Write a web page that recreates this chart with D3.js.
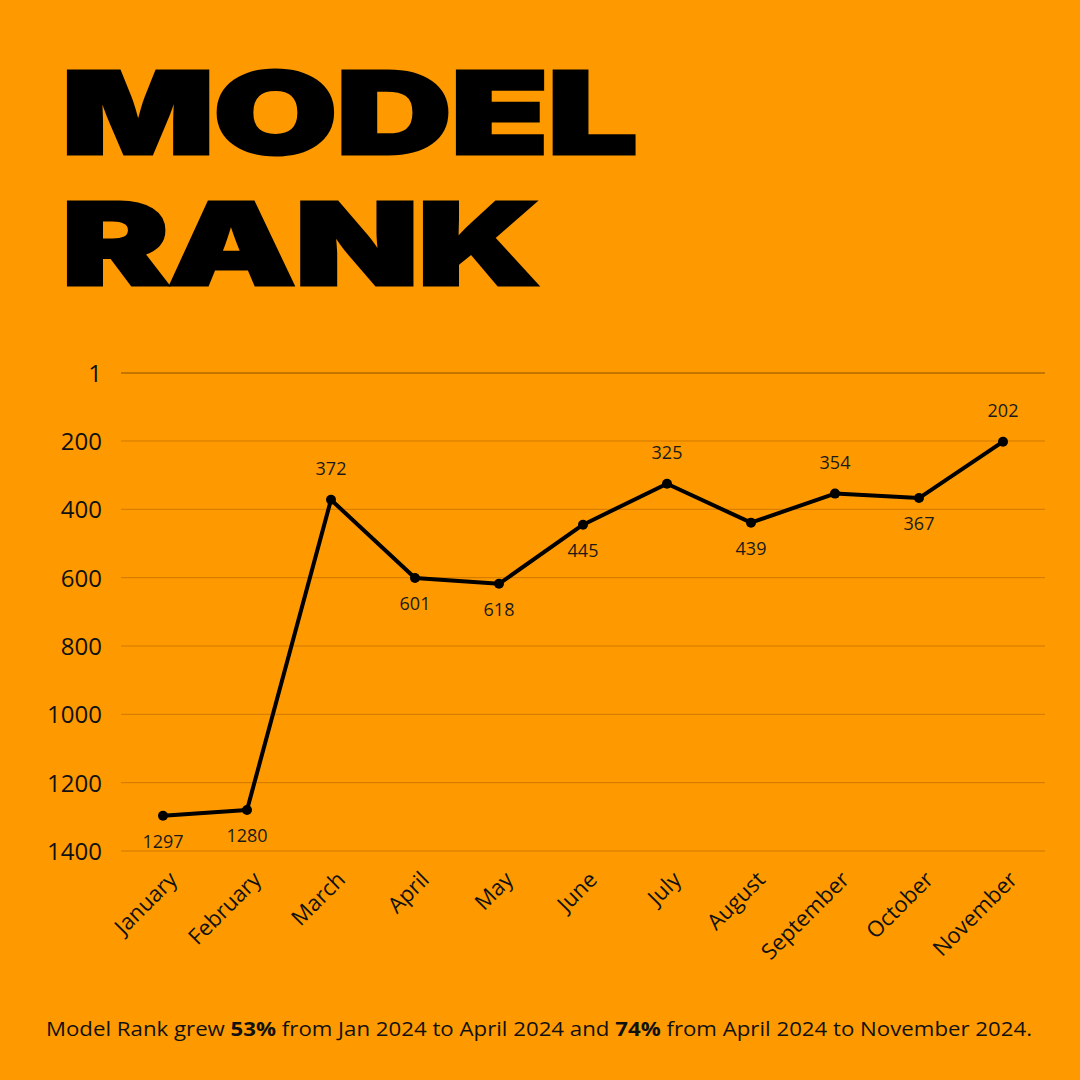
<!DOCTYPE html>
<html><head><meta charset="utf-8">
<script src="https://cdn.jsdelivr.net/npm/d3@7"></script>
<style>
html,body{margin:0;padding:0;background:#fe9a00;}
svg{display:block;}
</style></head>
<body>
<script>
const months = ["January","February","March","April","May","June","July","August","September","October","November"];
const ranks = [1297,1280,372,601,618,445,325,439,354,367,202];
const yTicks = [1,200,400,600,800,1000,1200,1400];
const titleLines = ["MODEL","RANK"];

const W = 1080, H = 1080;
const svg = d3.select("body").append("svg").attr("width",W).attr("height",H);
svg.append("rect").attr("width",W).attr("height",H).attr("fill","#fe9a00");

// Title
const titleBoxes = [{x:60,base:155,w:578},{x:60,base:286,w:480}];
titleLines.forEach((t,i)=>{
  const b = titleBoxes[i];
  const g = svg.append("g");
  const tx = g.append("text")
    .attr("x",0).attr("y",0)
    .attr("font-family","Inter, 'DejaVu Sans', sans-serif")
    .attr("font-weight",900).attr("font-size",114)
    .attr("letter-spacing",-1)
    .attr("fill","#000").attr("stroke","#000").attr("stroke-width",3).attr("stroke-linejoin","miter")
    .text(t);
  const bb = tx.node().getBBox();
  const sx = (b.w-3)/bb.width;
  g.attr("transform",`translate(${b.x+1.5 - bb.x*sx},${b.base-1.5}) scale(${sx},1)`);
});

// Chart
const x = d3.scalePoint().domain(months).range([121,1045]).padding(0.5);
const y = d3.scaleLinear().domain([1,1400]).range([373,851]);

const grid = svg.append("g");
grid.selectAll("line").data(yTicks).join("line")
  .attr("x1",121).attr("x2",1045)
  .attr("y1",d=>y(d)).attr("y2",d=>y(d))
  .attr("stroke",d=>d===1?"rgba(60,30,0,0.6)":"rgba(120,60,0,0.35)").attr("stroke-width",1);

const yAxis = svg.append("g").attr("transform","translate(102,0)")
  .call(d3.axisLeft(y).tickValues(yTicks).tickSize(0).tickPadding(0).tickFormat(d3.format("d")));
yAxis.select(".domain").remove();
yAxis.selectAll("text").attr("font-family","'Open Sans', sans-serif").attr("font-size",24).attr("fill","#111").attr("dy","0.36em");

const xAxis = svg.append("g").attr("transform","translate(0,851)")
  .call(d3.axisBottom(x).tickSize(0).tickPadding(0));
xAxis.select(".domain").remove();
xAxis.selectAll("text")
  .attr("font-family","'Open Sans', sans-serif").attr("font-size",22).attr("fill","#111")
  .attr("text-anchor","end").attr("dy",0)
  .attr("transform","translate(15,30) rotate(-45)");

const line = d3.line().x((d,i)=>x(months[i])).y(d=>y(d));
svg.append("path").datum(ranks).attr("d",line)
  .attr("fill","none").attr("stroke","#000").attr("stroke-width",4).attr("stroke-linejoin","round");

svg.selectAll("circle.pt").data(ranks).join("circle").attr("class","pt")
  .attr("cx",(d,i)=>x(months[i])).attr("cy",d=>y(d)).attr("r",5).attr("fill","#000");

function isPeak(i){
  const v = ranks[i];
  const l = i>0 ? ranks[i-1] : Infinity, r = i<ranks.length-1 ? ranks[i+1] : Infinity;
  return v < l && v < r;
}
svg.selectAll("text.lbl").data(ranks).join("text").attr("class","lbl")
  .attr("x",(d,i)=>x(months[i]))
  .attr("y",(d,i)=>y(d) + (isPeak(i) ? -31 : 26))
  .attr("dy","0.35em")
  .attr("text-anchor","middle")
  .attr("font-family","'Open Sans', sans-serif").attr("font-size",18).attr("fill","#1a1a1a")
  .text(d=>d);

// Footer
const foot = svg.append("text").attr("x",46).attr("y",1036)
  .attr("font-family","'Open Sans', sans-serif").attr("font-size",20).attr("fill","#111")
  .attr("textLength",986).attr("lengthAdjust","spacingAndGlyphs");
foot.append("tspan").text("Model Rank grew ");
foot.append("tspan").attr("font-weight",700).text("53%");
foot.append("tspan").text(" from Jan 2024 to April 2024 and ");
foot.append("tspan").attr("font-weight",700).text("74%");
foot.append("tspan").text(" from April 2024 to November 2024.");
</script>
</body></html>
